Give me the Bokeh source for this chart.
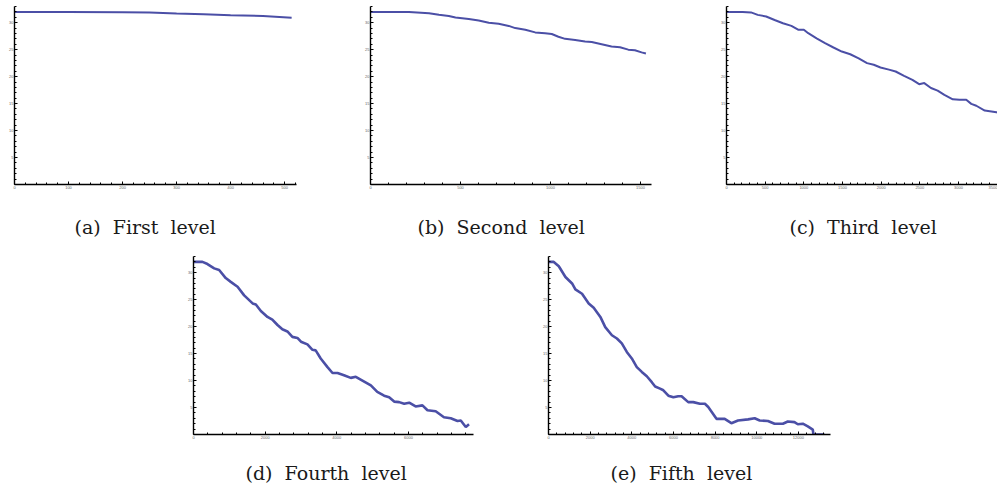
from bokeh.plotting import figure
from bokeh.models import Title, SingleIntervalTicker, FixedTicker, Range1d, Spacer
from bokeh.layouts import row, column
from bokeh.embed import file_html
from bokeh.resources import INLINE

# ---- data ----
a_x = [0, 100, 200, 250, 300, 350, 400, 460, 513]
a_y = [32, 32, 31.95, 31.9, 31.7, 31.55, 31.4, 31.25, 30.9]

b_x = [0, 214, 325, 380, 435, 472, 546, 601, 657, 712, 768, 804, 860, 915, 970, 1007,
       1044, 1081, 1137, 1192, 1229, 1284, 1339, 1386, 1432, 1469, 1506, 1530]
b_y = [32, 32, 31.75, 31.45, 31.25, 30.95, 30.7, 30.4, 30.0, 29.8, 29.4, 29.0, 28.7, 28.2,
       28.05, 27.9, 27.4, 27.0, 26.8, 26.5, 26.4, 26.0, 25.6, 25.45, 25.0, 24.9, 24.5, 24.3]

c_x = [0, 209, 317, 404, 513, 622, 730, 839, 926, 1000, 1057, 1165, 1274, 1383, 1491, 1600,
       1709, 1817, 1904, 1991, 2100, 2187, 2296, 2404, 2491, 2557, 2644, 2730, 2817, 2926,
       3013, 3100, 3165, 3230, 3339, 3426, 3491, 3535]
c_y = [32, 32, 31.9, 31.45, 31.15, 30.5, 29.9, 29.4, 28.7, 28.7, 28.05, 27.1, 26.2, 25.4,
       24.65, 24.15, 23.4, 22.5, 22.2, 21.7, 21.3, 20.95, 20.15, 19.4, 18.6, 18.8, 17.9,
       17.4, 16.6, 15.8, 15.7, 15.7, 14.95, 14.6, 13.7, 13.55, 13.4, 13.1]

d_x = [0, 250, 390, 577, 716, 900, 1040, 1230, 1414, 1650, 1740, 1880, 2065, 2200, 2345,
       2480, 2620, 2760, 2900, 3000, 3180, 3320, 3410, 3550, 3740, 3880, 4020, 4200, 4390,
       4530, 4715, 4950, 5130, 5320, 5460, 5600, 5740, 5880, 6020, 6200, 6390, 6530, 6760,
       6990, 7180, 7370, 7460, 7600, 7690]
d_y = [32, 32, 31.6, 30.8, 30.5, 29.0, 28.3, 27.4, 25.8, 24.3, 24.1, 22.9, 21.8, 21.3, 20.3,
       19.5, 19.1, 18.1, 17.9, 17.2, 16.7, 15.7, 15.6, 14.1, 12.5, 11.4, 11.4, 11.0, 10.5,
       10.7, 10.0, 9.1, 7.9, 7.2, 6.9, 6.1, 6.0, 5.7, 5.9, 5.2, 5.4, 4.5, 4.3, 3.2, 3.0, 2.5,
       2.6, 1.4, 1.9]

e_x = [0, 255, 494, 813, 1132, 1290, 1610, 1930, 2170, 2490, 2725, 3045, 3285, 3520, 3760,
       4000, 4240, 4480, 4720, 4960, 5120, 5355, 5515, 5755, 5995, 6230, 6390, 6710, 6950,
       7270, 7510, 7670, 7905, 8065, 8460, 8780, 9100, 9580, 9900, 10140, 10535, 10855,
       11255, 11490, 11810, 11970, 12210, 12450, 12690, 12720, 13250]
e_y = [32, 32, 31.2, 29.2, 28.0, 26.9, 26.1, 24.3, 23.5, 21.8, 19.9, 18.4, 17.8, 16.9, 15.3,
       14.1, 12.5, 11.6, 10.8, 9.7, 8.9, 8.5, 8.2, 7.2, 6.9, 7.1, 7.1, 6.0, 6.0, 5.7, 5.7,
       5.1, 3.8, 2.9, 2.9, 2.1, 2.6, 2.8, 3.0, 2.6, 2.5, 2.0, 2.0, 2.4, 2.3, 1.9, 2.0, 1.5,
       0.9, 0.0, 0.0]

captions = ["(a)\u00a0\u00a0First\u00a0\u00a0level", "(b)\u00a0\u00a0Second\u00a0\u00a0level",
            "(c)\u00a0\u00a0Third\u00a0\u00a0level", "(d)\u00a0\u00a0Fourth\u00a0\u00a0level",
            "(e)\u00a0\u00a0Fifth\u00a0\u00a0level"]
y_major_ticks = [5, 10, 15, 20, 25, 30]
y_minor_ticks = list(range(1, 34))

LINE = "#4b4fa6"


def panel(xs, ys, cap, x_end, x_int, width, height, bl, br, bt, bb, lw, cap_off, pad, cap_gap):
    p = figure(width=width, height=height, output_backend="svg", toolbar_location=None,
               x_range=Range1d(0, x_end), y_range=Range1d(0, 33),
               min_border_left=bl, min_border_right=br, min_border_top=bt,
               min_border_bottom=bb)
    p.line(xs, ys, line_color=LINE, line_width=lw)
    p.grid.visible = False
    p.outline_line_color = None
    p.xaxis[0].ticker = SingleIntervalTicker(interval=x_int, num_minor_ticks=5)
    p.yaxis[0].ticker = FixedTicker(ticks=y_major_ticks, minor_ticks=y_minor_ticks)
    for ax in (p.xaxis[0], p.yaxis[0]):
        ax.axis_line_color = "black"
        ax.axis_line_width = 1.4
        ax.major_tick_in = 3
        ax.major_tick_out = 0
        ax.minor_tick_in = 2
        ax.minor_tick_out = 0
        ax.major_tick_line_width = 1
        ax.minor_tick_line_width = 1
        ax.major_label_text_font_size = "4px"
        ax.major_label_text_color = "#666666"
        ax.major_label_standoff = 1
    # invisible spacer label pushes the caption down without moving tick labels
    p.xaxis[0].axis_label = "\u00a0"
    p.xaxis[0].axis_label_text_font_size = "2px"
    p.xaxis[0].axis_label_standoff = pad
    t = Title(text=cap, align="left", offset=cap_off, text_font="DejaVu Serif",
              text_font_size="19px", text_font_style="normal", text_color="#1a1a1a",
              standoff=cap_gap)
    p.add_layout(t, "below")
    return p


pa = panel(a_x, a_y, captions[0], 522, 100, 355, 256, 14, 59, 6, 72, 2.0, 60, 13, 8)
pb = panel(b_x, b_y, captions[1], 1561, 500, 356, 256, 15, 60, 6, 72, 2.0, 47, 13, 8)
pc = panel(c_x, c_y, captions[2], 3504, 500, 286, 256, 15, 0, 6, 72, 2.0, 63, 13, 8)
pd = panel(d_x, d_y, captions[3], 7815, 2000, 355, 237, 15, 60, 0, 59, 2.6, 52, 9, 8)
pe = panel(e_x, e_y, captions[4], 13540, 2000, 301, 237, 15, 4, 0, 59, 2.6, 62, 9, 8)

layout = column(row(pa, pb, pc), row(Spacer(width=178, height=237), pd, pe))

open("out.html", "w").write(file_html(layout, INLINE))
